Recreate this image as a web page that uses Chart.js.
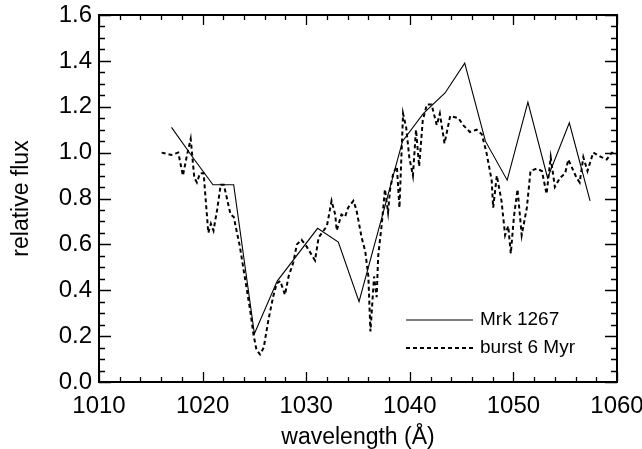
<!DOCTYPE html>
<html lang="en">
<head>
  <meta charset="UTF-8">
  <title>relative flux</title>
  <style>
    html, body { margin: 0; padding: 0; background: #fff; }
    #wrap { width: 642px; height: 449px; }
  </style>
</head>
<body>
  <div id="wrap"><canvas id="fluxChart" width="642" height="449"></canvas></div>
  <script src="https://cdn.jsdelivr.net/npm/chart.js"></script>
  <script>
    // observed spectrum
    const mrkWave = [1017.0, 1019.2, 1021.0, 1023.0, 1025.0, 1027.2, 1031.1, 1033.1, 1035.1, 1039.3,
      1041.3, 1043.4, 1045.3, 1047.3, 1049.4, 1051.4, 1053.3, 1055.4, 1057.4];
    const mrkFlux = [1.11, 0.97, 0.86, 0.86, 0.21, 0.44, 0.67, 0.61, 0.35, 1.05,
      1.17, 1.26, 1.39, 1.05, 0.88, 1.22, 0.89, 1.13, 0.79];

    // model spectrum
    const burstWave = [1016.05, 1017.0, 1017.65, 1018.1, 1018.5, 1018.85, 1019.2, 1019.45, 1019.75, 1020.1,
      1020.55, 1020.8, 1021.05, 1021.4, 1021.75, 1022.05, 1022.7, 1023.0, 1023.6, 1024.1,
      1024.6, 1024.9, 1025.2, 1025.55, 1025.9, 1026.35, 1026.8, 1027.15, 1027.5, 1027.95,
      1028.3, 1028.75, 1029.1, 1029.55, 1030.05, 1030.85, 1031.2, 1032.0, 1032.45, 1032.8,
      1032.95, 1033.4, 1033.75, 1034.05, 1034.55, 1034.85, 1035.35, 1035.7, 1036.0, 1036.2,
      1036.55, 1036.8, 1036.95, 1037.3, 1037.6, 1037.9, 1038.1, 1038.4, 1038.75, 1039.0,
      1039.35, 1039.65, 1039.95, 1040.3, 1040.6, 1040.9, 1041.25, 1041.65, 1042.1, 1042.6,
      1042.9, 1043.35, 1043.9, 1044.7, 1045.15, 1045.8, 1046.45, 1046.95, 1047.4, 1047.9,
      1048.05, 1048.4, 1048.85, 1049.2, 1049.5, 1049.75, 1050.05, 1050.4, 1050.8, 1051.3,
      1051.65, 1052.25, 1052.75, 1053.2, 1053.6, 1054.0, 1054.5, 1055.0, 1055.3, 1055.6,
      1056.1, 1056.4, 1056.75, 1057.15, 1057.7, 1058.5, 1059.0, 1059.5, 1060.0];
    const burstFlux = [1.00, 0.99, 1.00, 0.90, 0.99, 1.06, 0.89, 0.87, 0.91, 0.91,
      0.65, 0.69, 0.66, 0.75, 0.86, 0.86, 0.73, 0.72, 0.59, 0.45,
      0.31, 0.21, 0.14, 0.12, 0.15, 0.27, 0.37, 0.43, 0.44, 0.38,
      0.46, 0.52, 0.60, 0.62, 0.59, 0.53, 0.63, 0.68, 0.79, 0.73,
      0.66, 0.73, 0.72, 0.76, 0.79, 0.75, 0.63, 0.57, 0.46, 0.22,
      0.46, 0.37, 0.55, 0.69, 0.84, 0.74, 0.84, 0.91, 0.94, 0.76,
      1.17, 1.11, 0.98, 0.90, 1.10, 0.94, 1.14, 1.21, 1.21, 1.12,
      1.17, 1.04, 1.16, 1.15, 1.12, 1.09, 1.10, 1.08, 1.00, 0.88,
      0.76, 0.90, 0.79, 0.64, 0.68, 0.56, 0.72, 0.84, 0.64, 0.76,
      0.92, 0.93, 0.92, 0.82, 0.98, 0.85, 0.89, 0.91, 0.97, 0.94,
      0.89, 0.87, 0.98, 0.92, 1.00, 0.98, 0.97, 1.00, 0.99];

    const seriesNames = ['Mrk 1267', 'burst 6 Myr'];
    const xRange = [1010, 1060];
    const yRange = [0, 1.6];

    const FONT = "'Liberation Sans', Arial, Helvetica, sans-serif";

    const toPoints = (xs, ys) => xs.map((x, i) => ({ x: x, y: ys[i] }));

    // ticks pointing inwards on all four sides, plus the frame
    const frameTicks = {
      id: 'frameTicks',
      afterDraw(chart) {
        const ctx = chart.ctx;
        const a = chart.chartArea;
        const xs = chart.scales.x;
        const ys = chart.scales.y;
        ctx.save();
        ctx.strokeStyle = '#000';
        ctx.lineWidth = 1.3;
        ctx.beginPath();
        for (let v = xRange[0]; v <= xRange[1] + 0.001; v += 2) {
          const px = Math.round(xs.getPixelForValue(v)) + 0.5;
          const len = (Math.round(v) % 10 === 0) ? 10 : 5;
          ctx.moveTo(px, a.bottom); ctx.lineTo(px, a.bottom - len);
          ctx.moveTo(px, a.top); ctx.lineTo(px, a.top + len);
        }
        for (let k = 0; k <= 32; k++) {
          const v = k * 0.05;
          const py = Math.round(ys.getPixelForValue(v)) + 0.5;
          const len = (k % 4 === 0) ? 12 : 6;
          ctx.moveTo(a.left, py); ctx.lineTo(a.left + len, py);
          ctx.moveTo(a.right, py); ctx.lineTo(a.right - len, py);
        }
        ctx.stroke();
        ctx.lineWidth = 2;
        ctx.strokeRect(a.left, a.top, a.right - a.left, a.bottom - a.top);

        // legend inside the plot
        const ds = chart.data.datasets;
        const lx0 = 406, lx1 = 473, tx = 480;
        const rows = [320, 348];
        ctx.font = '19px ' + FONT;
        ctx.textBaseline = 'middle';
        ctx.fillStyle = '#000';
        ds.forEach((d, i) => {
          ctx.lineWidth = d.borderWidth;
          ctx.setLineDash(d.borderDash || []);
          ctx.beginPath();
          ctx.moveTo(lx0, rows[i]); ctx.lineTo(lx1, rows[i]);
          ctx.stroke();
          ctx.setLineDash([]);
          ctx.fillText(d.label, tx, rows[i]);
        });
        ctx.restore();
      }
    };

    new Chart(document.getElementById('fluxChart'), {
      type: 'line',
      data: {
        datasets: [{
          label: seriesNames[0],
          data: toPoints(mrkWave, mrkFlux),
          borderColor: '#000',
          borderWidth: 1.1,
          pointRadius: 0,
          tension: 0
        }, {
          label: seriesNames[1],
          data: toPoints(burstWave, burstFlux),
          borderColor: '#000',
          borderWidth: 2,
          borderDash: [4, 3],
          pointRadius: 0,
          tension: 0
        }]
      },
      options: {
        responsive: false,
        animation: false,
        layout: { padding: { top: 15, right: 25, left: 0, bottom: 0 } },
        plugins: {
          legend: { display: false },
          tooltip: { enabled: false }
        },
        scales: {
          x: {
            type: 'linear',
            min: xRange[0],
            max: xRange[1],
            grid: { display: false, drawTicks: false },
            border: { display: false },
            ticks: {
              stepSize: 10,
              padding: 10,
              color: '#000',
              font: { family: FONT, size: 24 },
              callback: v => String(v)
            },
            title: {
              display: true,
              text: 'wavelength (Å)',
              color: '#000',
              font: { family: FONT, size: 23, lineHeight: 1.0 },
              padding: { top: 0, bottom: 0 }
            },
            afterFit(scale) {
              scale.height = 67;
              scale.paddingLeft = 0;
              scale.paddingRight = 0;
            }
          },
          y: {
            min: yRange[0],
            max: yRange[1],
            grid: { display: false, drawTicks: false },
            border: { display: false },
            ticks: {
              stepSize: 0.2,
              padding: 7,
              color: '#000',
              font: { family: FONT, size: 24 },
              callback: v => v.toFixed(1)
            },
            title: {
              display: true,
              text: 'relative flux',
              color: '#000',
              font: { family: FONT, size: 23, lineHeight: 1.2 },
              padding: { top: 8, bottom: 0 }
            },
            afterFit(scale) {
              scale.width = 99;
              scale.paddingTop = 0;
              scale.paddingBottom = 0;
            }
          }
        }
      },
      plugins: [frameTicks]
    });
  </script>
</body>
</html>
